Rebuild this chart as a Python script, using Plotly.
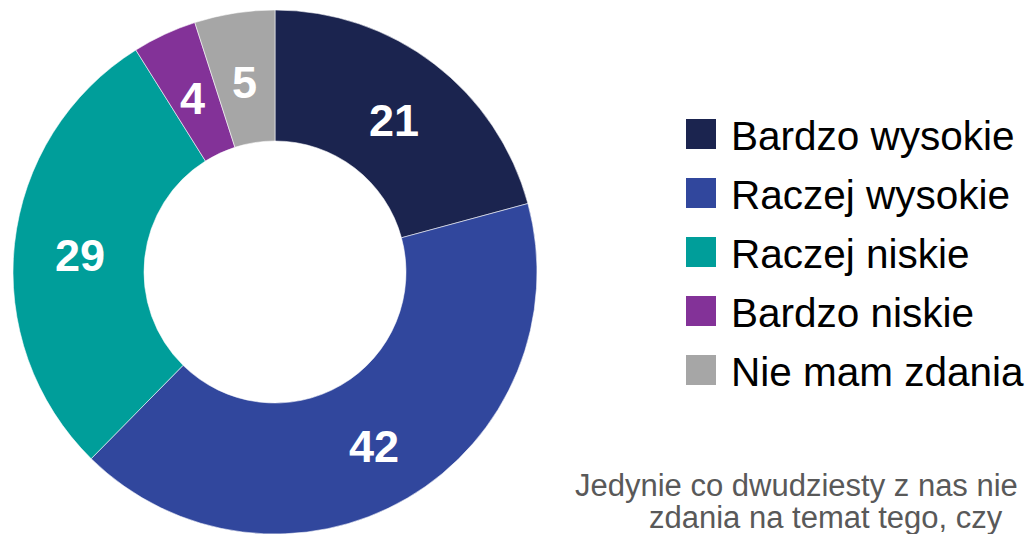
import math
import plotly.graph_objects as go

labels = ["Bardzo wysokie", "Raczej wysokie", "Raczej niskie", "Bardzo niskie", "Nie mam zdania"]
values = [21, 42, 29, 4, 5]
colors = ["#1B244F", "#31479D", "#009E9A", "#833298", "#A6A6A6"]
note_lines = ["Jedynie co dwudziesty z nas nie", "zdania na temat tego, czy"]

W, H = 1035, 534
OFF = 8  # page body margin

# pie geometry (figure pixels)
CX, CY, R, HOLE = 275 - OFF, 272 - OFF, 262, 0.5

fig = go.Figure()
fig.add_trace(go.Pie(
    labels=labels,
    values=values,
    sort=False,
    direction="clockwise",
    rotation=0,
    hole=HOLE,
    marker=dict(colors=colors, line=dict(color="rgba(255,255,255,0.7)", width=0.8)),
    textinfo="none",
    domain=dict(x=[(CX - R) / W, (CX + R) / W], y=[1 - (CY + R) / H, 1 - (CY - R) / H]),
    showlegend=False,
    hoverinfo="label+value",
))

# value labels at the middle of each ring segment
total = sum(values)
cum = 0
rmid = R * (1 + HOLE) / 2
for v in values:
    ang = 2 * math.pi * (cum + v / 2) / total
    cum += v
    px = CX + rmid * math.sin(ang)
    py = CY - rmid * math.cos(ang) + 5
    fig.add_annotation(xref="paper", yref="paper", x=px / W, y=1 - py / H,
                       xanchor="center", yanchor="middle", showarrow=False,
                       text=str(v),
                       font=dict(family="Liberation Sans, Arial", size=45, color="white", weight="bold"))

# custom legend (big square swatches)
row0, step = 134 - OFF, 59
for i, (lab, col) in enumerate(zip(labels, colors)):
    cy = row0 + i * step
    fig.add_shape(type="rect", xref="paper", yref="paper",
                  x0=(686 - OFF) / W, x1=(716 - OFF) / W,
                  y0=1 - (cy + 15) / H, y1=1 - (cy - 15) / H,
                  fillcolor=col, line=dict(width=0))
    fig.add_annotation(xref="paper", yref="paper", x=(732 - OFF - 3) / W, y=1 - (cy + 2) / H,
                       xanchor="left", yanchor="middle", showarrow=False,
                       text=lab, font=dict(family="Liberation Sans, Arial", size=40.5, color="#000000"))

note_x = [576, 650]
note_base = [495, 527]
for t, nx, nb in zip(note_lines, note_x, note_base):
    fig.add_annotation(xref="paper", yref="paper", x=(nx - OFF - 3) / W, y=1 - (nb - OFF + 10) / H,
                       xanchor="left", yanchor="bottom", showarrow=False,
                       text=t, font=dict(family="Liberation Sans, Arial", size=31, color="#595959"))

fig.update_layout(
    width=W, height=H,
    margin=dict(l=0, r=0, t=0, b=0),
    paper_bgcolor="white", plot_bgcolor="white",
)
fig.write_html("out.html")
